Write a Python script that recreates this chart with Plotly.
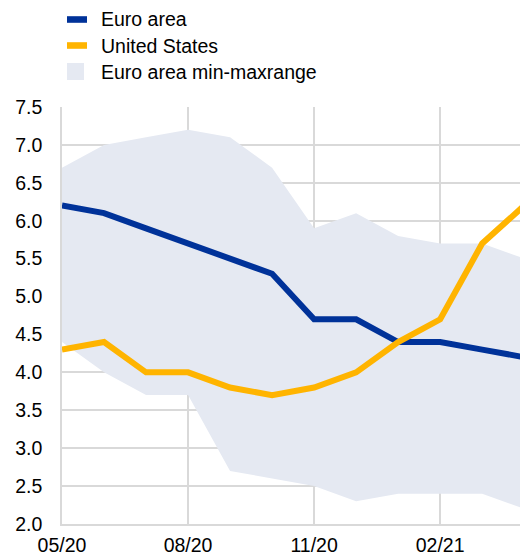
import plotly.graph_objects as go

months = ["05/20", "06/20", "07/20", "08/20", "09/20", "10/20",
          "11/20", "12/20", "01/21", "02/21", "03/21", "04/21"]
euro_area = [6.2, 6.1, 5.9, 5.7, 5.5, 5.3, 4.7, 4.7, 4.4, 4.4, 4.3, 4.2]
united_states = [4.3, 4.4, 4.0, 4.0, 3.8, 3.7, 3.8, 4.0, 4.4, 4.7, 5.7, 6.2]
ea_max = [6.7, 7.0, 7.1, 7.2, 7.1, 6.7, 5.9, 6.1, 5.8, 5.7, 5.7, 5.5]
ea_min = [4.4, 4.0, 3.7, 3.7, 2.7, 2.6, 2.5, 2.3, 2.4, 2.4, 2.4, 2.2]
x_ticks = ["05/20", "08/20", "11/20", "02/21"]
y_ticks = [2.0, 2.5, 3.0, 3.5, 4.0, 4.5, 5.0, 5.5, 6.0, 6.5, 7.0, 7.5]

BLUE = "#003299"
YELLOW = "#FFB400"
FILL = "#E5E9F2"
GRID = "#D9D9D9"
FONT = "Liberation Sans, Arial, sans-serif"
FS = 19.5

legend_items = [("Euro area", "line", BLUE),
                ("United States", "line", YELLOW),
                ("Euro area min-maxrange", "box", FILL)]

fig = go.Figure()
fig.add_trace(go.Scatter(x=months, y=ea_min, mode="lines", line=dict(width=0, color=FILL),
                         showlegend=False, hoverinfo="skip"))
fig.add_trace(go.Scatter(x=months, y=ea_max, mode="lines", line=dict(width=0, color=FILL),
                         fill="tonexty", fillcolor=FILL, name="Euro area min-maxrange",
                         showlegend=False))
fig.add_trace(go.Scatter(x=months, y=euro_area, mode="lines", line=dict(width=6, color=BLUE),
                         name="Euro area", showlegend=False))
fig.add_trace(go.Scatter(x=months, y=united_states, mode="lines", line=dict(width=6, color=YELLOW),
                         name="United States", showlegend=False))

W, H = 520, 556
ml, mr, mt, mb = 62, 0, 107, 32
pw, ph = W - ml - mr, H - mt - mb

def px(x):  # page px -> paper
    return (x - ml) / pw

def py(y):
    return (H - mb - y) / ph

row_y = [19.5, 45.5, 71.5]
for (label, kind, color), yc in zip(legend_items, row_y):
    if kind == "line":
        fig.add_shape(type="rect", xref="paper", yref="paper",
                      x0=px(67), x1=px(87), y0=py(yc + 3.3), y1=py(yc - 3.3),
                      fillcolor=color, line=dict(width=0))
    else:
        fig.add_shape(type="rect", xref="paper", yref="paper",
                      x0=px(67), x1=px(84), y0=py(yc + 8.5), y1=py(yc - 8.5),
                      fillcolor=color, line=dict(width=0))
    fig.add_annotation(x=px(99), y=py(yc), xref="paper", yref="paper",
                       text=label, showarrow=False, xanchor="left", yanchor="middle",
                       font=dict(size=FS, color="#000000", family=FONT))

fig.update_layout(
    width=W, height=H,
    margin=dict(l=ml, r=mr, t=mt, b=mb, autoexpand=False),
    plot_bgcolor="white", paper_bgcolor="white",
    font=dict(family=FONT, size=FS, color="#000000"),
    showlegend=False,
)
fig.update_xaxes(type="category", categoryorder="array", categoryarray=months,
                 range=[0, 10.9], tickvals=x_ticks, ticktext=x_ticks,
                 showgrid=True, gridcolor=GRID, gridwidth=1.5,
                 showline=True, linecolor=GRID, linewidth=1.5, automargin=False,
                 ticks="", ticklabelstandoff=3, fixedrange=True)
fig.update_yaxes(range=[2.0, 7.5], tickvals=y_ticks, tickformat=".1f",
                 showgrid=True, gridcolor=GRID, gridwidth=1.5,
                 showline=True, linecolor=GRID, linewidth=1.5, automargin=False,
                 ticks="", ticklabelstandoff=14, zeroline=False, fixedrange=True)

fig.write_html("out.html", config={"displayModeBar": False},
               post_script="document.body.style.margin='0';document.body.style.overflow='hidden';")
